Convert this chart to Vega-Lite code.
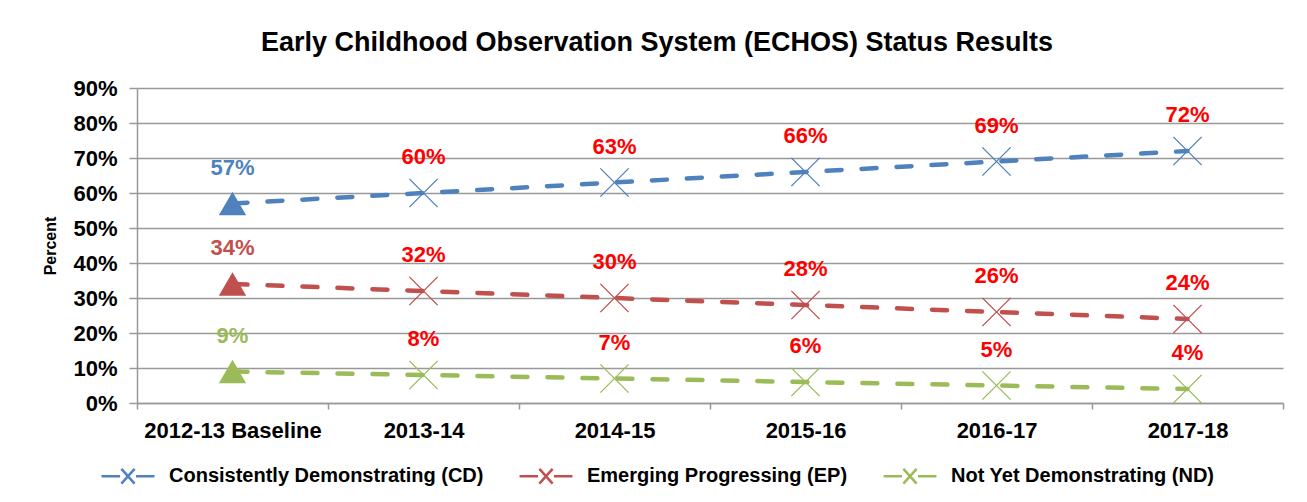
{
  "$schema": "https://vega.github.io/schema/vega-lite/v6.json",
  "width": 1146,
  "height": 315,
  "autosize": {"type": "none"},
  "padding": {"left": 137, "top": 88, "right": 24, "bottom": 99},
  "background": "white",
  "title": {
    "text": "Early Childhood Observation System (ECHOS) Status Results",
    "font": "Liberation Sans",
    "fontSize": 27,
    "fontWeight": "bold",
    "color": "black",
    "anchor": "middle",
    "dx": -53,
    "offset": 20
  },
  "config": {"font": "Liberation Sans", "view": {"stroke": null}},
  "data": {
    "values": [
      {"year": "2012-13 Baseline", "series": "Consistently Demonstrating (CD)", "value": 0.57},
      {"year": "2013-14", "series": "Consistently Demonstrating (CD)", "value": 0.60},
      {"year": "2014-15", "series": "Consistently Demonstrating (CD)", "value": 0.63},
      {"year": "2015-16", "series": "Consistently Demonstrating (CD)", "value": 0.66},
      {"year": "2016-17", "series": "Consistently Demonstrating (CD)", "value": 0.69},
      {"year": "2017-18", "series": "Consistently Demonstrating (CD)", "value": 0.72},
      {"year": "2012-13 Baseline", "series": "Emerging Progressing (EP)", "value": 0.34},
      {"year": "2013-14", "series": "Emerging Progressing (EP)", "value": 0.32},
      {"year": "2014-15", "series": "Emerging Progressing (EP)", "value": 0.30},
      {"year": "2015-16", "series": "Emerging Progressing (EP)", "value": 0.28},
      {"year": "2016-17", "series": "Emerging Progressing (EP)", "value": 0.26},
      {"year": "2017-18", "series": "Emerging Progressing (EP)", "value": 0.24},
      {"year": "2012-13 Baseline", "series": "Not Yet Demonstrating (ND)", "value": 0.09},
      {"year": "2013-14", "series": "Not Yet Demonstrating (ND)", "value": 0.08},
      {"year": "2014-15", "series": "Not Yet Demonstrating (ND)", "value": 0.07},
      {"year": "2015-16", "series": "Not Yet Demonstrating (ND)", "value": 0.06},
      {"year": "2016-17", "series": "Not Yet Demonstrating (ND)", "value": 0.05},
      {"year": "2017-18", "series": "Not Yet Demonstrating (ND)", "value": 0.04}
    ]
  },
  "encoding": {
    "x": {
      "field": "year",
      "type": "nominal",
      "sort": ["2012-13 Baseline", "2013-14", "2014-15", "2015-16", "2016-17", "2017-18"],
      "scale": {"type": "band", "paddingInner": 0, "paddingOuter": 0},
      "axis": {
        "title": null,
        "labelAngle": 0,
        "labelFontSize": 22,
        "labelFontWeight": "bold",
        "labelColor": "black",
        "labelPadding": 11,
        "labelLimit": 0,
        "tickBand": "extent",
        "tickSize": 6,
        "tickColor": "#999999",
        "tickWidth": 1.5,
        "domainColor": "#999999",
        "domainWidth": 1.5,
        "grid": false
      }
    },
    "y": {
      "field": "value",
      "type": "quantitative",
      "scale": {"domain": [0, 0.9], "nice": false},
      "axis": {
        "values": [0, 0.1, 0.2, 0.3, 0.4, 0.5, 0.6, 0.7, 0.8, 0.9],
        "format": ".0%",
        "title": "Percent",
        "titleFontSize": 16,
        "titleFontWeight": "bold",
        "titleColor": "black",
        "titlePadding": 14,
        "labelFontSize": 22,
        "labelFontWeight": "bold",
        "labelColor": "black",
        "labelPadding": 12,
        "tickSize": 8,
        "tickColor": "#999999",
        "tickWidth": 1.5,
        "domainColor": "#999999",
        "domainWidth": 1.5,
        "grid": true,
        "gridColor": "#999999",
        "gridWidth": 1.5
      }
    }
  },
  "layer": [
    {
      "mark": {"type": "line", "strokeWidth": 4.5, "strokeDash": [15, 20], "strokeCap": "round"},
      "encoding": {
        "color": {
          "field": "series",
          "type": "nominal",
          "scale": {
            "domain": ["Consistently Demonstrating (CD)", "Emerging Progressing (EP)", "Not Yet Demonstrating (ND)"],
            "range": ["#4F81BD", "#C0504D", "#9BBB59"]
          },
          "legend": {
            "orient": "none",
            "legendX": -37,
            "legendY": 360,
            "direction": "horizontal",
            "title": null,
            "labelFontSize": 20,
            "labelFontWeight": "bold",
            "labelColor": "black",
            "labelOffset": 13,
            "labelLimit": 0,
            "columnPadding": 30,
            "symbolType": "M-1,0H-0.3M0.3,0H1M-0.25,-0.28L0.25,0.28M-0.25,0.28L0.25,-0.28",
            "symbolSize": 2800,
            "symbolStrokeWidth": 2.5,
            "symbolDash": [],
            "symbolFillColor": "transparent"
          }
        }
      }
    },
    {
      "transform": [{"filter": "datum.year === '2012-13 Baseline'"}],
      "mark": {"type": "point", "shape": "triangle-up", "size": 750, "filled": true, "opacity": 1},
      "encoding": {"color": {"field": "series", "type": "nominal", "legend": null}}
    },
    {
      "transform": [{"filter": "datum.year !== '2012-13 Baseline'"}],
      "mark": {"type": "point", "shape": "M-1,-1L1,1M-1,1L1,-1", "size": 800, "filled": false, "strokeWidth": 1.3, "opacity": 1},
      "encoding": {"color": {"field": "series", "type": "nominal", "legend": null}}
    },
    {
      "mark": {"type": "text", "dy": -36, "fontSize": 22, "fontWeight": "bold"},
      "encoding": {
        "text": {"field": "value", "type": "quantitative", "format": ".0%"},
        "color": {
          "condition": {"test": "datum.year === '2012-13 Baseline'", "field": "series", "type": "nominal", "legend": null},
          "value": "#FF0000"
        }
      }
    }
  ]
}
